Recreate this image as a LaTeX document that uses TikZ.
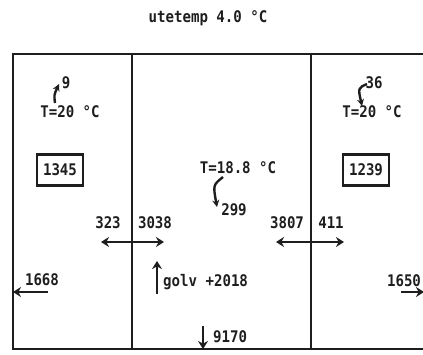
\documentclass[tikz,border=0pt]{standalone}
\usepackage{fontspec}
\newfontfamily\plotfont[FakeStretch=0.88]{DejaVu Sans Mono}
\usetikzlibrary{arrows.meta}
\definecolor{ink}{HTML}{1E1E1E}
\tikzset{
  lbl/.style={font=\plotfont\bfseries\fontsize{16}{16}\selectfont, text=ink, inner sep=0pt, anchor=base},
  wall/.style={line width=1.6pt, draw=ink},
  flow/.style={line width=2.6pt, draw=ink, -{Stealth[length=8pt,width=10pt]}},
  dflow/.style={line width=2.6pt, draw=ink, {Stealth[length=8pt,width=10pt]}-{Stealth[length=8pt,width=10pt]}},
  curl/.style={line width=2.4pt, draw=ink, -{Stealth[length=7pt,width=7pt]}},
  valbox/.style={draw=ink, line width=2.2pt, minimum width=46pt, minimum height=31pt, inner sep=0pt,
                 font=\plotfont\bfseries\fontsize{16}{16}\selectfont, text=ink}
}
\begin{document}
\begin{tikzpicture}[x=1pt,y=-1pt]
\useasboundingbox (0,0) rectangle (423,354);
% frame
\coordinate (tl) at (13,54); \coordinate (tr) at (424,54);
\coordinate (bl) at (13,349); \coordinate (br) at (424,349);
\coordinate (d1t) at (132,54); \coordinate (d1b) at (132,349);
\coordinate (d2t) at (311,54); \coordinate (d2b) at (311,349);
\draw[wall] (tr) -- (tl) -- (bl) -- (br);
\draw[wall] (d1t) -- (d1b);
\draw[wall] (d2t) -- (d2b);
% title
\node[lbl] (title) at (208,22) {utetemp 4.0 °C};
% left room
\node[lbl] (tl20) at (70,117) {T=20 °C};
\node[lbl] (n9) at (66,88) {9};
\coordinate (c9a) at (55,103); \coordinate (c9b) at (59,84);
\draw[curl] (c9a) .. controls (54,95) .. (c9b);
\node[valbox] (b1345) at (60,170) {1345};
% right room
\node[lbl] (tr20) at (372,117) {T=20 °C};
\node[lbl] (n36) at (374,88) {36};
\coordinate (c36a) at (367,84); \coordinate (c36b) at (362,106);
\draw[curl] (c36a) .. controls (358,88) .. (c36b);
\node[valbox] (b1239) at (366,170) {1239};
% middle room
\node[lbl] (tm) at (238,173) {T=18.8 °C};
\node[lbl] (n299) at (234,215) {299};
\coordinate (c299a) at (223,177); \coordinate (c299b) at (217,207);
\draw[curl] (c299a) .. controls (213,185) .. (c299b);
% wall exchanges
\node[lbl] (n323) at (108,228) {323};
\node[lbl] (n3038) at (155,228) {3038};
\coordinate (e1a) at (101,242); \coordinate (e1b) at (164,242);
\draw[dflow] (e1a) -- (e1b);
\node[lbl] (n3807) at (287,228) {3807};
\node[lbl] (n411) at (331,228) {411};
\coordinate (e2a) at (276,242); \coordinate (e2b) at (344,242);
\draw[dflow] (e2a) -- (e2b);
% outer walls
\node[lbl] (n1668) at (42,285) {1668};
\coordinate (o1a) at (48,292); \coordinate (o1b) at (13,292);
\draw[flow] (o1a) -- (o1b);
\node[lbl] (n1650) at (404,286) {1650};
\coordinate (o2a) at (401,292); \coordinate (o2b) at (424,292);
\draw[flow] (o2a) -- (o2b);
% floor
\node[lbl, anchor=base west] (golv) at (163,286) {golv +2018};
\coordinate (g1) at (157,294); \coordinate (g2) at (157,261);
\draw[flow] (g1) -- (g2);
\node[lbl, anchor=base west] (n9170) at (213,342) {9170};
\coordinate (f1) at (203,326); \coordinate (f2) at (203,349);
\draw[flow] (f1) -- (f2);
\end{tikzpicture}
\end{document}
